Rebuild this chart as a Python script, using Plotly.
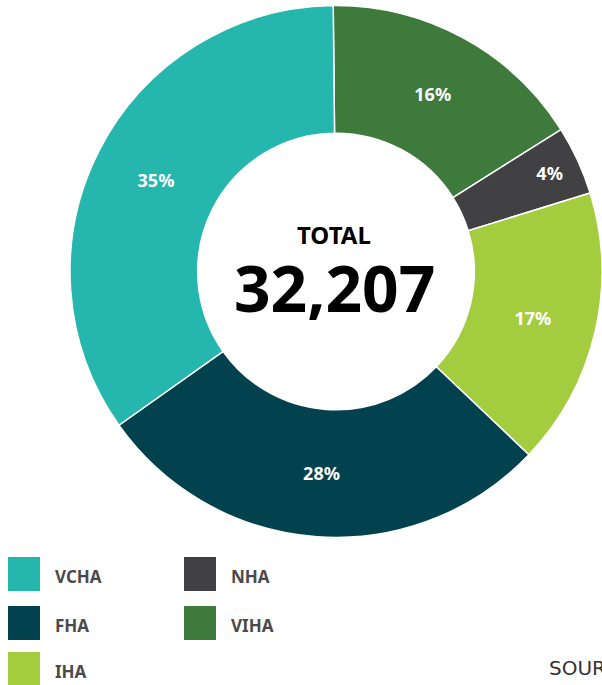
import plotly.graph_objects as go

# Data (clockwise from 12 o'clock)
labels = ["VIHA", "NHA", "IHA", "FHA", "VCHA"]
values = [5220, 1350, 5430, 9050, 11157]
colors = ["#3e7a3b", "#414143", "#a3cd3f", "#02424e", "#25b7ad"]
total_label = "TOTAL"
total_value = "32,207"

# Legend layout order (row-major, two columns)
legend_order = ["VCHA", "NHA", "FHA", "VIHA", "IHA"]

W, H = 602, 685
FONT = "Noto Sans"

fig = go.Figure()
fig.add_trace(go.Pie(
    labels=labels, values=values, sort=False, direction="clockwise", rotation=-0.6,
    hole=0.52,
    marker=dict(colors=colors, line=dict(color="white", width=1.5)),
    texttemplate="<b>%{percent:.0%}</b>", textposition="inside",
    insidetextorientation="horizontal",
    textfont=dict(family=FONT, size=18, color="white"),
    domain=dict(x=[70 / W, 1.0], y=[(H - 538) / H, (H - 5) / H]),
    showlegend=False, hoverinfo="label+value+percent",
))

cx = 334 / W
fig.add_annotation(x=cx, y=1 - 234 / H, xref="paper", yref="paper",
                   text="<b>" + total_label + "</b>", showarrow=False,
                   font=dict(family=FONT, size=24, color="#000"), xanchor="center", yanchor="middle")
fig.add_annotation(x=cx, y=1 - 287 / H, xref="paper", yref="paper",
                   text="<b>" + total_value + "</b>", showarrow=False,
                   font=dict(family=FONT, size=64, color="#000"), xanchor="center", yanchor="middle")

# Custom legend: two columns
col_x = [8, 184]
row_y = [557, 606, 652]
color_map = dict(zip(labels, colors))
for i, name in enumerate(legend_order):
    r, c = divmod(i, 2)
    x0 = col_x[c]
    y0 = row_y[r]
    fig.add_shape(type="rect", xref="paper", yref="paper",
                  x0=x0 / W, x1=(x0 + 32) / W, y0=1 - y0 / H, y1=1 - (y0 + 34) / H,
                  fillcolor=color_map[name], line=dict(width=0))
    fig.add_annotation(x=(x0 + 45) / W, y=1 - (y0 + 19) / H, xref="paper", yref="paper",
                       text="<b>" + name + "</b>", showarrow=False, xanchor="left", yanchor="middle",
                       font=dict(family=FONT, size=17, color="#4a4a4a"))

fig.add_annotation(x=547 / W, y=1 - 668 / H, xref="paper", yref="paper",
                   text="SOURCE", showarrow=False, xanchor="left", yanchor="middle",
                   font=dict(family="DejaVu Sans", size=20, color="#333"))

fig.update_layout(width=W, height=H, margin=dict(l=0, r=0, t=0, b=0),
                  paper_bgcolor="white", plot_bgcolor="white", showlegend=False)
fig.write_html("out.html", config={"displayModeBar": False},
               post_script="document.body.style.margin='0';document.body.style.overflow='hidden';")
